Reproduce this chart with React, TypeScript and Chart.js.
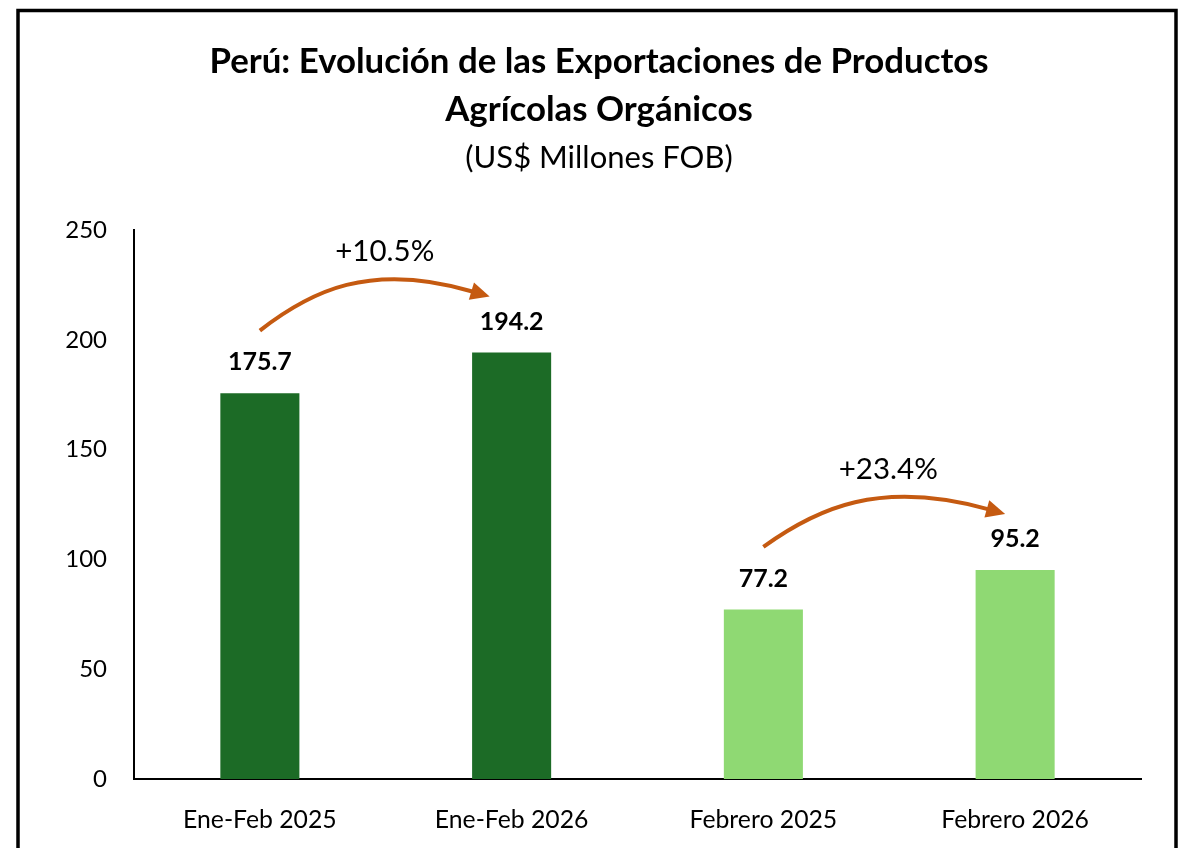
import React, { useEffect, useRef } from "react";
import { Chart, registerables } from "chart.js";

Chart.register(...registerables);

const titleLines = ["Perú: Evolución de las Exportaciones de Productos", "Agrícolas Orgánicos"];
const subtitleText = "(US$ Millones FOB)";
const categories = ["Ene-Feb 2025", "Ene-Feb 2026", "Febrero 2025", "Febrero 2026"];
const values = [175.7, 194.2, 77.2, 95.2];
const barColors = ["#1C6B26", "#1C6B26", "#8FD973", "#8FD973"];
const growthLabels = ["+10.5%", "+23.4%"];
const growthFrom = [0, 2];
const yMin = 0;
const yMax = 250;
const yStep = 50;

const FONT = 'Lato, "Liberation Sans", Arial, sans-serif';
const ARROW_COLOR = "#C55A11";
const arrowEndShift = [22, 10];

const framePlugin = {
  id: "frame",
  beforeDraw(chart: any) {
    const ctx = chart.ctx;
    ctx.save();
    ctx.fillStyle = "#ffffff";
    ctx.fillRect(0, 0, chart.width, chart.height);
    ctx.strokeStyle = "#000000";
    ctx.lineWidth = 3.5;
    ctx.strokeRect(18, 10.5, 1176 - 18, chart.height + 40);
    ctx.restore();
  },
};

const annotationPlugin = {
  id: "annot",
  afterDatasetsDraw(chart: any) {
    const ctx = chart.ctx;
    const meta = chart.getDatasetMeta(0);
    const ys = chart.scales.y;
    ctx.save();
    // value labels
    ctx.fillStyle = "#000";
    ctx.font = `bold 25px ${FONT}`;
    ctx.textAlign = "center";
    ctx.textBaseline = "middle";
    meta.data.forEach((bar: any, i: number) => {
      ctx.fillText(values[i].toFixed(1), bar.x, bar.y - 31);
    });
    // arrows
    growthFrom.forEach((i, k) => {
      const j = i + 1;
      const sv = values[i] + 28.5;
      const ev = values[j] + 25.5;
      const x0 = meta.data[i].x;
      const y0 = ys.getPixelForValue(sv);
      const tipX = meta.data[j].x - arrowEndShift[k];
      const tipY = ys.getPixelForValue(ev);
      const peakY = ys.getPixelForValue(Math.max(sv, ev) + 8);
      const dx = tipX - 18 - x0;
      const h = y0 - peakY;
      const p1x = x0 + 0.237 * dx;
      const p1y = y0 - 0.76 * h;
      const p2x = x0 + 0.52 * dx;
      const p2y = peakY - 0.35 * h;
      let dirx = tipX - p2x;
      let diry = tipY - p2y;
      const len = Math.hypot(dirx, diry);
      dirx /= len;
      diry /= len;
      const headLen = 19;
      const headHalf = 9;
      const bx = tipX - dirx * headLen;
      const by = tipY - diry * headLen;
      ctx.strokeStyle = ARROW_COLOR;
      ctx.fillStyle = ARROW_COLOR;
      ctx.lineWidth = 4;
      ctx.lineCap = "butt";
      ctx.beginPath();
      ctx.moveTo(x0, y0);
      ctx.bezierCurveTo(p1x, p1y, p2x, p2y, bx + dirx * 2, by + diry * 2);
      ctx.stroke();
      ctx.beginPath();
      ctx.moveTo(tipX, tipY);
      ctx.lineTo(bx - diry * headHalf, by + dirx * headHalf);
      ctx.lineTo(bx + diry * headHalf, by - dirx * headHalf);
      ctx.closePath();
      ctx.fill();
      // growth label
      ctx.fillStyle = "#000";
      ctx.font = `29.5px ${FONT}`;
      ctx.fillText(growthLabels[k], (meta.data[i].x + meta.data[j].x) / 2 - 1, ys.getPixelForValue(Math.max(sv, ev) + 9) - 25);
    });
    ctx.restore();
  },
};

export default function App() {
  const ref = useRef<HTMLCanvasElement>(null);
  useEffect(() => {
    if (!ref.current) return;
    const chart = new Chart(ref.current, {
      type: "bar",
      data: {
        labels: categories,
        datasets: [
          {
            data: values,
            backgroundColor: barColors,
            borderWidth: 0,
            barPercentage: 0.314,
            categoryPercentage: 1,
          },
        ],
      },
      options: {
        responsive: false,
        animation: false,
        events: [],
        layout: { padding: { left: 57, right: 47, top: 0, bottom: 0 } },
        plugins: {
          legend: { display: false },
          tooltip: { enabled: false },
          title: {
            display: true,
            text: titleLines,
            color: "#000",
            font: { family: FONT, size: 34.8, weight: "bold", lineHeight: 1.38 },
            padding: { top: 38, bottom: 5.4 },
          },
          subtitle: {
            display: true,
            text: subtitleText,
            color: "#000",
            font: { family: FONT, size: 31, weight: "normal", lineHeight: 1.2 },
            padding: { top: 0, bottom: 53.4 },
          },
        },
        scales: {
          x: {
            grid: { display: false, drawTicks: false, tickLength: 0 },
            border: { display: true, color: "#000", width: 2 },
            ticks: {
              color: "#000",
              font: { family: FONT, size: 24.75 },
              padding: 26,
              maxRotation: 0,
              autoSkip: false,
            },
            afterFit(scale: any) {
              scale.height = 69;
            },
          },
          y: {
            min: yMin,
            max: yMax,
            grid: { display: false, drawTicks: false, tickLength: 0 },
            border: { display: true, color: "#000", width: 2 },
            ticks: {
              stepSize: yStep,
              color: "#000",
              font: { family: FONT, size: 24 },
              padding: 27,
            },
            afterFit(scale: any) {
              scale.width = 77;
            },
          },
        },
      },
      plugins: [framePlugin, annotationPlugin],
    });
    return () => chart.destroy();
  }, []);
  return (
    <div style={{ position: "absolute", left: 0, top: 0, width: 1188, height: 848 }}>
      <canvas ref={ref} width={1188} height={848} style={{ width: 1188, height: 848, display: "block" }} />
    </div>
  );
}
